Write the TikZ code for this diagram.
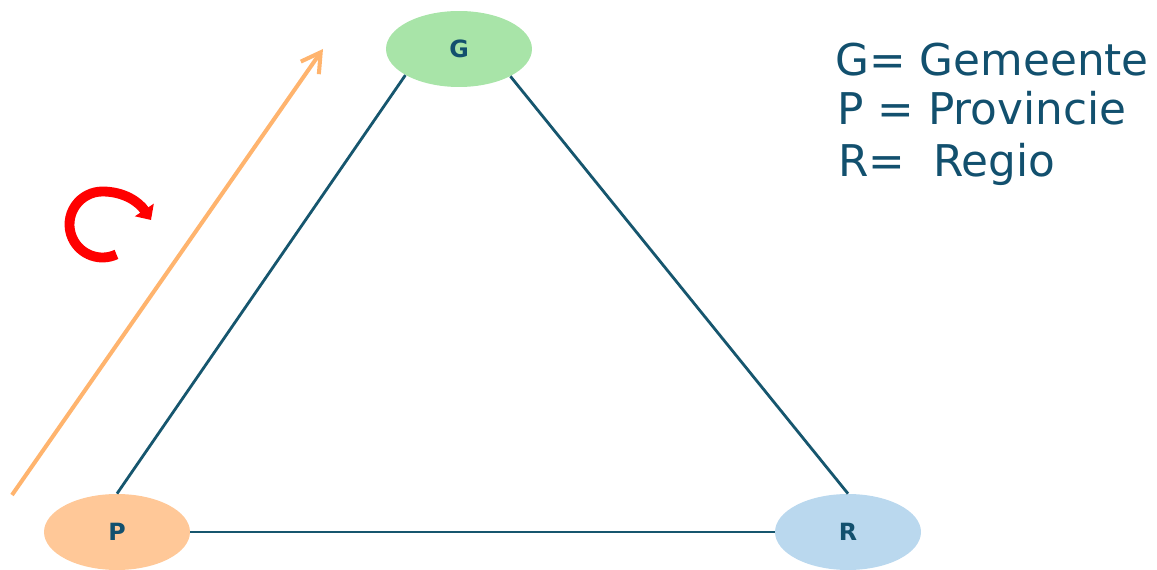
\documentclass[tikz,border=0pt]{standalone}
\usepackage{fontspec}
\setmainfont{DejaVu Sans}
\usetikzlibrary{shapes.geometric,arrows.meta}
\definecolor{lijn}{RGB}{22,86,110}
\definecolor{groen}{RGB}{168,228,168}
\definecolor{oranje}{RGB}{255,200,152}
\definecolor{blauw}{RGB}{186,216,238}
\definecolor{pijl}{RGB}{255,180,110}
\definecolor{tekst}{RGB}{18,80,110}
\tikzset{
  bol/.style={ellipse, minimum width=2.92cm, minimum height=1.52cm, inner sep=0pt,
    font=\fontsize{13.5}{13.5}\selectfont\bfseries, text=tekst},
  zijde/.style={draw=lijn, line width=1.6pt},
  legenda/.style={anchor=base west, inner sep=0pt, text=tekst,
    font=\fontsize{24.9}{29}\selectfont}
}
\begin{document}
\begin{tikzpicture}[x=0.02cm, y=-0.02cm]
    % kader in pixels : 1157 x 570
    \useasboundingbox (0,0) rectangle (1157,570);

    % de drie knopen
    \node[bol, fill=groen] (G) at (459,49) {G};
    \node[bol, fill=oranje] (P) at (117,532) {P};
    \node[bol, fill=blauw] (R) at (848,532) {R};

    % zijden van de driehoek
    \draw[zijde] (G.206) -- (P.north);
    \draw[zijde] (G.332) -- (R.north);
    \draw[zijde] (P.east) -- (R.west);

    % oranje pijl langs P--G
    \coordinate (pijlbegin) at (12,495);
    \coordinate (pijleind) at (323,49);
    \draw[pijl, line width=2.3pt, -{Straight Barb[length=0.38cm,width=0.44cm]}] (pijlbegin) -- (pijleind);

    % rode draaipijl
    \coordinate (draai) at (102.5,224.5);
    \coordinate (draaipunt) at (151,220);
    \draw[red, line width=5.6pt, -{Triangle[length=0.24cm,width=0.44cm]}] (draai) ++(65:33) arc[start angle=65, end angle=270, radius=33]
        .. controls (124,191.5) and (139,202) .. (draaipunt);

    % legenda
    \node[legenda] (legG) at (835,76) {G= Gemeente};
    \node[legenda] (legP) at (837,125) {P = Provincie};
    \node[legenda] (legR) at (838,177) {R=\ \ Regio};
\end{tikzpicture}
\end{document}
